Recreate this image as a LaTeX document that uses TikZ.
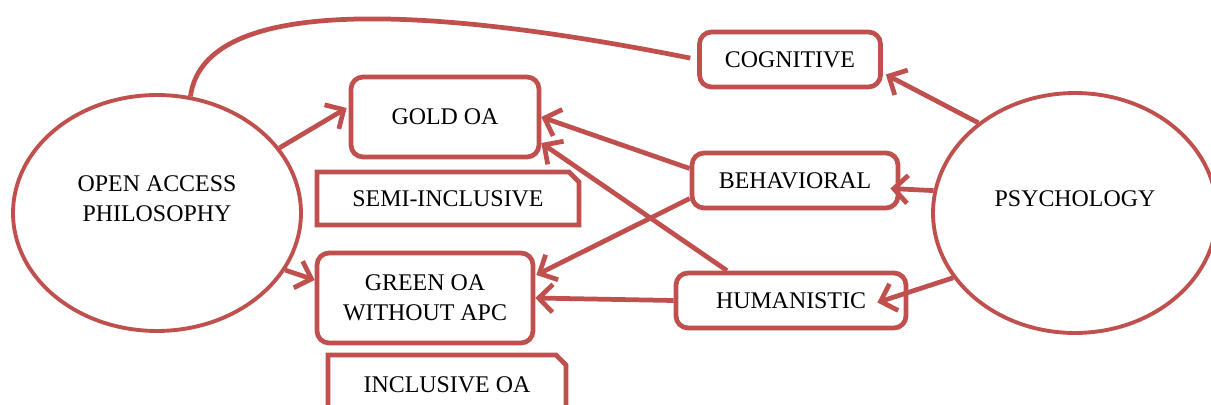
\documentclass[tikz,border=0pt]{standalone}
\usepackage{fontspec}
\setmainfont{Liberation Serif}
\usetikzlibrary{shapes,arrows.meta,calc}
\definecolor{oared}{RGB}{192,80,77}

\begin{document}
\begin{tikzpicture}[x=0.02cm, y=-0.02cm]
  \tikzset{>={Straight Barb[length=2.8mm,width=5.6mm]}}
  \tikzset{
    every node/.style={font=\fontsize{13.6}{17}\selectfont},
    bubble/.style={draw=oared, line width=2.2pt, ellipse, align=center, text depth=16pt, inner sep=0pt},
    card/.style={draw=oared, line width=2.7pt, rounded corners=0.24cm, align=center, inner sep=0pt},
    snipcard/.style={draw=oared, line width=2.7pt, chamfered rectangle, chamfered rectangle corners=north east,
      chamfered rectangle xsep=0.1cm, chamfered rectangle ysep=0.1cm, inner sep=0pt},
    link/.style={draw=oared, line width=2.7pt, ->}
  }
  \useasboundingbox (0,0) rectangle (1211,405);
  %
  \node [bubble, minimum width=5.76cm, minimum height=4.72cm] (oap) at (157,213) {OPEN ACCESS\\PHILOSOPHY};
  \node [bubble, minimum width=5.68cm, minimum height=4.8cm] (psy) at (1075,213) {PSYCHOLOGY};
  %
  \node [card, minimum width=3.76cm, minimum height=1.6cm] (gold) at (445,117) {GOLD OA};
  \node [snipcard, minimum width=5.24cm, minimum height=1.06cm] (semi) at (448,198.5) {SEMI-INCLUSIVE};
  \node [card, minimum width=4.32cm, minimum height=1.8cm] (green) at (425,298) {GREEN OA\\WITHOUT APC};
  \node [snipcard, minimum width=4.76cm, minimum height=1.2cm] (incl) at (447,385) {INCLUSIVE OA};
  %
  \node [card, minimum width=3.62cm, minimum height=1.1cm] (cog) at (790,59.5) {COGNITIVE};
  \node [card, minimum width=4.12cm, minimum height=1.1cm] (beh) at (795,180.5) {BEHAVIORAL};
  \node [card, minimum width=4.6cm, minimum height=1.1cm] (hum) at (791,300.5) {HUMANISTIC};
  %
  \draw [link] (oap.28) -- ($(gold.west)+(-2,-9)$);
  \draw [link] (oap.-24) -- ($(green.west)+(0,-18)$);
  \draw [draw=oared, line width=2.7pt, shorten >=0.14cm] (oap.74) .. controls +(14,-104) and +(-260,-52) .. (cog.west);
  %
  \draw [link] (psy.137) -- ($(cog.east)+(3,15)$);
  \draw [link] (psy.171) -- ($(beh.east)+(-10,8)$);
  \draw [link] (psy.208) -- ($(hum.east)+(-31,2)$);
  %
  \draw [link] ($(beh.west)+(0,-12)$) -- (gold.east);
  \draw [link] ($(hum.north)+(-64,0)$) -- ($(gold.east)+(0,26)$);
  \draw [link] ($(beh.west)+(0,18)$) -- ($(green.east)+(1,-23)$);
  \draw [link] (hum.west) -- (green.east);
\end{tikzpicture}
\end{document}
